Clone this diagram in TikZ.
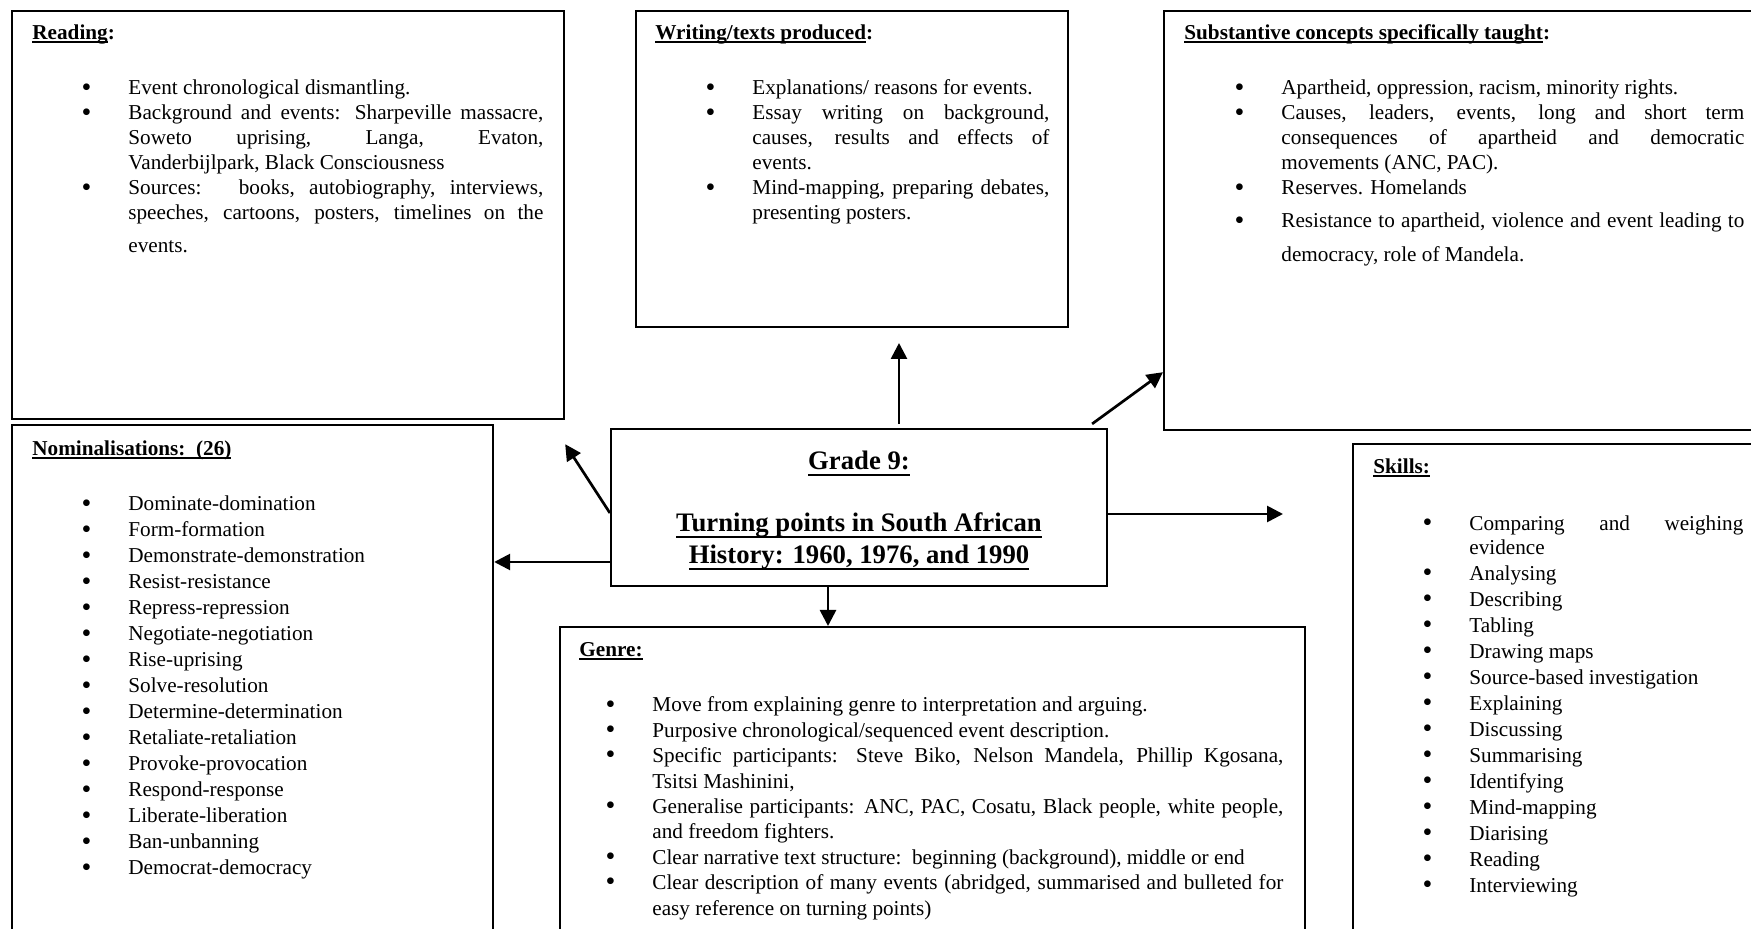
\documentclass[tikz,border=0pt]{standalone}
\usepackage{fontspec}
\setmainfont{Liberation Serif}
\usetikzlibrary{arrows.meta}
\newlength\pu
\setlength\pu{0.5pt}
\newcommand\ulin[2][0.15em]{\setbox0\hbox{#2}\rlap{\rule[-#1]{\wd0}{0.08em}}\box0}
\newcommand\itm{\par\noindent\llap{\raisebox{-0.6pt}{\fontsize{14pt}{14pt}\selectfont\textbullet}\hspace{37\pu}}}
\hyphenpenalty=10000
\exhyphenpenalty=10000
\tolerance=10000
\tikzset{
  panel/.style={draw, line width=1.1pt, inner sep=0pt, anchor=north west},
  txt/.style={inner sep=0pt, anchor=base west, align=justify, font={\fontsize{10.6pt}{12.5pt}\selectfont}},
  arr/.style={line width=1.35pt, -{Triangle[length=8pt,width=8pt]}}
}
\begin{document}
\begin{tikzpicture}[x=0.5pt, y=-0.5pt]
		\useasboundingbox (0,0) rectangle (1751,929);
		\fill[white] (0,0) rectangle (1751,929);
		\clip (0,0) rectangle (1751,929);
		% boxes
		\node[panel, minimum width=552\pu, minimum height=408\pu] (reading) at (11,10) {};
		\node[panel, minimum width=432\pu, minimum height=316\pu] (writing) at (635,10) {};
		\node[panel, minimum width=610\pu, minimum height=419\pu] (subst) at (1163,10) {};
		\node[panel, minimum width=481\pu, minimum height=540\pu] (nomin) at (11,424) {};
		\node[panel, minimum width=745\pu, minimum height=340\pu] (genre) at (559,626) {};
		\node[panel, minimum width=420\pu, minimum height=520\pu] (skills) at (1352,443) {};
		\node[draw, line width=1.1pt, inner sep=0pt, minimum width=496\pu, minimum height=157\pu, align=center, font={\fontsize{13.35pt}{16pt}\selectfont\bfseries}] (topic) at (859,507.5) {\rule{0pt}{12pt}\ulin[0.25em]{Grade 9:}\\[15pt]\ulin[0.25em]{Turning points in South African}\\\ulin[0.25em]{History: 1960, 1976, and 1990}};
		% texts
		\node[txt, text width=511\pu] (readingtext) at (32,40) {\noindent\textbf{\ulin{Reading}:}\par\vspace{30\pu}\leftskip=96\pu
		\itm Event chronological dismantling.
		\itm Background and events: Sharpeville massacre,\linebreak Soweto uprising, Langa, Evaton,\linebreak Vanderbijlpark, Black Consciousness
		\itm Sources:\ \ \ books, autobiography, interviews,\linebreak speeches, cartoons, posters, timelines on the\vspace{8\pu}\linebreak events.\par};
		\node[txt, text width=394\pu] (writingtext) at (655,40) {\noindent\textbf{\ulin{Writing/texts produced}:}\par\vspace{30\pu}\leftskip=97\pu
		\itm Explanations/ reasons for events.
		\itm Essay writing on background,\linebreak causes, results and effects of\linebreak events.
		\itm Mind-mapping, preparing debates,\linebreak presenting posters.\par};
		\node[txt, text width=560\pu] (substtext) at (1184,40) {\noindent\textbf{\ulin{Substantive concepts specifically taught}:}\par\vspace{30\pu}\leftskip=97\pu
		\itm Apartheid, oppression, racism, minority rights.
		\itm Causes, leaders, events, long and short term\linebreak consequences of apartheid and democratic\linebreak movements (ANC, PAC).
		\itm Reserves. Homelands\vspace{8\pu}
		\itm Resistance to apartheid, violence and event leading to\vspace{9\pu}\linebreak democracy, role of Mandela.\par};
		\node[txt, text width=400\pu, font={\fontsize{10.6pt}{13pt}\selectfont}] (nomintext) at (32,456) {\noindent\textbf{\ulin{Nominalisations:\ \ (26)}}\par\vspace{29\pu}\leftskip=96\pu
		\itm Dominate-domination
		\itm Form-formation
		\itm Demonstrate-demonstration
		\itm Resist-resistance
		\itm Repress-repression
		\itm Negotiate-negotiation
		\itm Rise-uprising
		\itm Solve-resolution
		\itm Determine-determination
		\itm Retaliate-retaliation
		\itm Provoke-provocation
		\itm Respond-response
		\itm Liberate-liberation
		\itm Ban-unbanning
		\itm Democrat-democracy\par};
		\node[txt, text width=704\pu, font={\fontsize{10.6pt}{12.7pt}\selectfont}] (genretext) at (579,657) {\noindent\textbf{\ulin{Genre:}}\par\vspace{29.6\pu}\leftskip=73\pu
		\itm Move from explaining genre to interpretation and arguing.
		\itm Purposive chronological/sequenced event description.
		\itm Specific participants: Steve Biko, Nelson Mandela, Phillip Kgosana,\linebreak Tsitsi Mashinini,
		\itm Generalise participants: ANC, PAC, Cosatu, Black people, white people,\linebreak and freedom fighters.
		\itm Clear narrative text structure:\ \ beginning (background), middle or end
		\itm Clear description of many events (abridged, summarised and bulleted for\linebreak easy reference on turning points)\par};
		\node[txt, text width=370\pu, font={\fontsize{10.6pt}{12pt}\selectfont}] (skillstext) at (1373,474) {\noindent\textbf{\ulin{Skills:}}\par\parskip=2\pu\vspace{30.5\pu}\leftskip=96\pu
		\itm Comparing and weighing\linebreak evidence
		\itm Analysing
		\itm Describing
		\itm Tabling
		\itm Drawing maps
		\itm Source-based investigation
		\itm Explaining
		\itm Discussing
		\itm Summarising
		\itm Identifying
		\itm Mind-mapping
		\itm Diarising
		\itm Reading
		\itm Interviewing\par};
		% arrows
		\coordinate (writingTip) at (899,343);
		\coordinate (skillsTip) at (1283,514);
		\draw[arr] ([shift={(40,-4)}]topic.north) -- (writingTip);
		\draw[arr] ([shift={(-16,-4)}]topic.north east) -- ([shift={(0,-59)}]subst.south west);
		\draw[arr] ([shift={(0,5.5)}]topic.west) -- ([shift={(0,24)}]reading.south east);
		\draw[arr] ([shift={(0,54.5)}]topic.west) coordinate (l0) -- (l0 -| nomin.east);
		\draw[arr] ([shift={(0,6.5)}]topic.east) -- (skillsTip);
		\draw[arr] ([shift={(-31,0)}]topic.south) coordinate (d0) -- (d0 |- genre.north);
\end{tikzpicture}
\end{document}
